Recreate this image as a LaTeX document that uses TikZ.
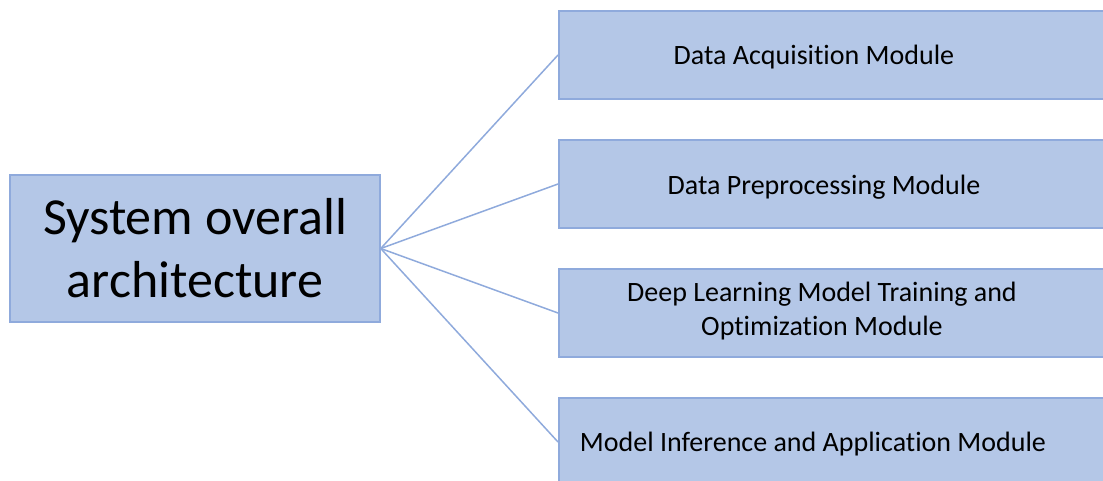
\documentclass[tikz,border=0pt]{standalone}
\usepackage{fontspec}
\setmainfont{Carlito}[Ligatures={NoCommon}]
\definecolor{boxfill}{HTML}{B4C7E7}
\definecolor{boxline}{HTML}{8FAADC}
\begin{document}
\begin{tikzpicture}[x=1pt,y=-1pt,
  mainbox/.style={draw=boxline,fill=boxfill,line width=1.5pt,minimum width=370pt,minimum height=147pt,inner sep=0pt,align=center,font=\fontsize{52}{63}\selectfont},
  modbox/.style={draw=boxline,fill=boxfill,line width=1.5pt,minimum width=552pt,minimum height=88pt,inner sep=0pt,anchor=west},
  modtext/.style={align=center,font=\fontsize{28}{34}\selectfont},
  link/.style={draw=boxline,line width=1.5pt}]
\useasboundingbox (0,0) rectangle (1103,481);
\clip (0,0) rectangle (1103,481);
\node[mainbox] (sys) at (195,248.5) {System overall\\architecture};
\node[modbox] (m1) at (558,55) {};
\node[modbox] (m2) at (558,184) {};
\node[modbox] (m3) at (558,313) {};
\node[modbox] (m4) at (558,442) {};
\node[modtext] (t1) at (814,57) {Data Acquisition Module};
\node[modtext] (t2) at (824,187) {Data Preprocessing Module};
\node[modtext] (t3) at (822,311) {Deep Learning Model Training and\\Optimization Module};
\node[modtext] (t4) at (813,444) {Model Inference and Application Module};
\foreach \m in {m1,m2,m3,m4}{\draw[link] (sys.east) -- (\m.west);}
\end{tikzpicture}
\end{document}
